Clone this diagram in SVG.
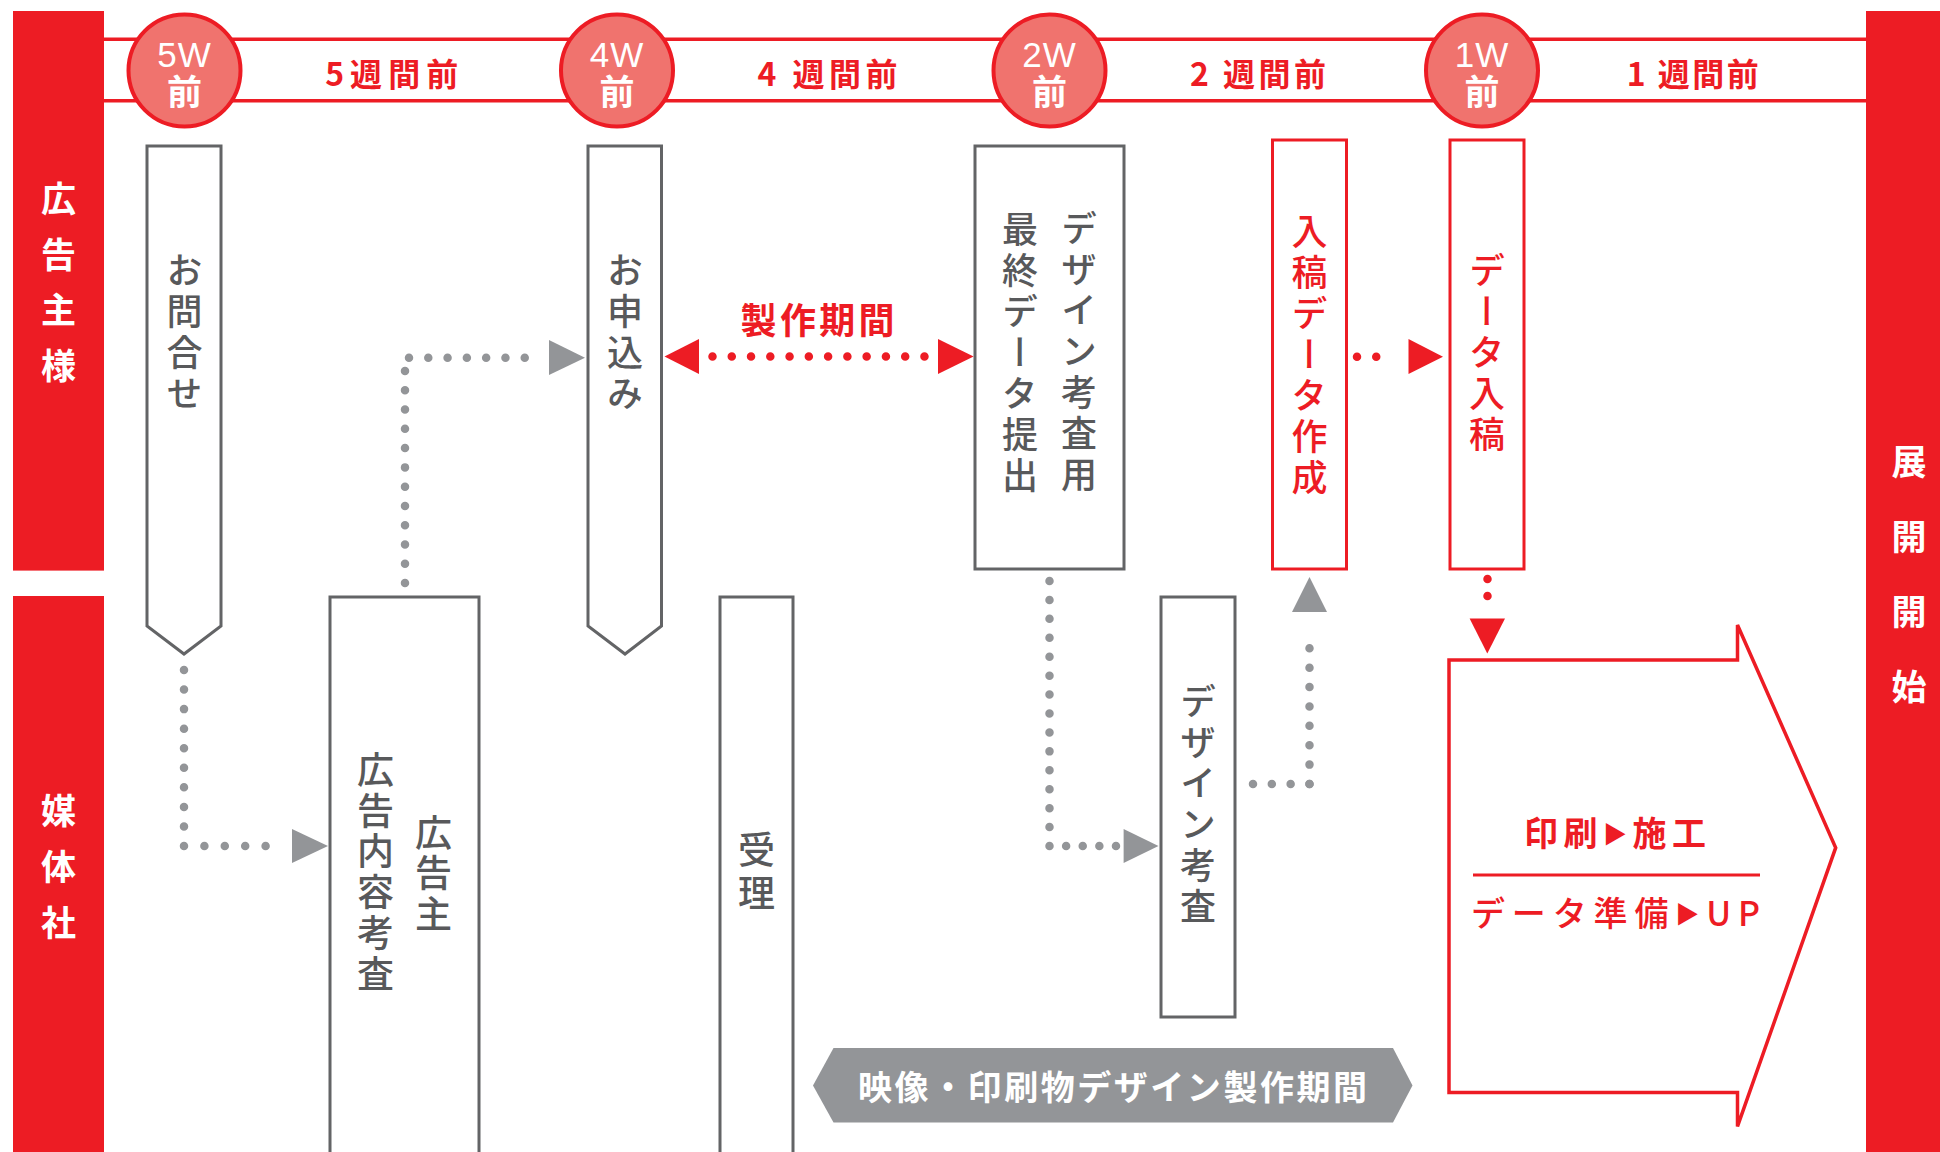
<svg xmlns="http://www.w3.org/2000/svg" width="1940" height="1152" viewBox="0 0 1940 1152">
<defs>
<style>
text{font-family:"Noto Sans CJK JP","Noto Sans",sans-serif;}
.lane{fill:#ed1c24;}
.lanet{fill:#fff;font-size:35px;font-weight:700;text-anchor:middle;}
.wk{fill:#ed1c24;font-size:32px;font-weight:700;text-anchor:middle;}
.circ{fill:#f0736e;stroke:#ed1c24;stroke-width:4;}
.cw{fill:#fff;text-anchor:middle;font-family:"Liberation Sans","Noto Sans",sans-serif;font-size:35px;font-weight:400;letter-spacing:1px;}
.cz{fill:#fff;writing-mode:vertical-rl;font-size:35px;font-weight:700;}
.gbox{fill:#fff;stroke:#636466;stroke-width:3;}
.rbox{fill:#fff;stroke:#ed1c24;stroke-width:3;}
.v{writing-mode:vertical-rl;font-size:36px;letter-spacing:5px;font-weight:500;}
.gt{fill:#58595b;}
.rt{fill:#ed1c24;}
.gdot{fill:none;stroke:#939598;stroke-width:8.5;stroke-linecap:round;}
.rdot{fill:none;stroke:#ed1c24;stroke-width:8.5;stroke-linecap:round;}
.gah{fill:#939598;}
.rah{fill:#ed1c24;}
.tri{font-size:24px;}
</style>
</defs>
<rect width="1940" height="1152" fill="#fff"/>

<g id="lane-advertiser">
<rect class="lane" x="13" y="11" width="91" height="559.6"/>
<text class="lanet" x="58.5" y="212">広</text>
<text class="lanet" x="58.5" y="267.5">告</text>
<text class="lanet" x="58.5" y="323">主</text>
<text class="lanet" x="58.5" y="379">様</text>
</g>
<g id="lane-media">
<rect class="lane" x="13" y="596" width="91" height="556"/>
<text class="lanet" x="58.5" y="824">媒</text>
<text class="lanet" x="58.5" y="880">体</text>
<text class="lanet" x="58.5" y="936">社</text>
</g>
<g id="lane-start">
<rect class="lane" x="1866" y="11" width="74" height="1141"/>
<text class="lanet" x="1909" y="475">展</text>
<text class="lanet" x="1909" y="550">開</text>
<text class="lanet" x="1909" y="625">開</text>
<text class="lanet" x="1909" y="700">始</text>
</g>

<g id="timeline">
<line x1="104" y1="39.3" x2="1866" y2="39.3" stroke="#ed1c24" stroke-width="3.5"/>
<line x1="104" y1="100.7" x2="1866" y2="100.7" stroke="#ed1c24" stroke-width="3.5"/>
<text class="wk" x="391.7" y="86" textLength="133" lengthAdjust="spacing">5週間前</text>
<text class="wk" x="827.4" y="86" textLength="140" lengthAdjust="spacing">4 週間前</text>
<text class="wk" x="1258" y="86" textLength="136" lengthAdjust="spacing">2 週間前</text>
<text class="wk" x="1692.7" y="86" textLength="132" lengthAdjust="spacing">1 週間前</text>
</g>

<g id="m5w">
<circle class="circ" cx="184.5" cy="70.5" r="56"/>
<text class="cw" x="184.5" y="66.5">5W</text>
<text class="cz" x="184.5" y="74.5">前</text>
</g>
<g id="m4w">
<circle class="circ" cx="617" cy="70.5" r="56"/>
<text class="cw" x="617" y="66.5">4W</text>
<text class="cz" x="617" y="74.5">前</text>
</g>
<g id="m2w">
<circle class="circ" cx="1049.5" cy="70.5" r="56"/>
<text class="cw" x="1049.5" y="66.5">2W</text>
<text class="cz" x="1049.5" y="74.5">前</text>
</g>
<g id="m1w">
<circle class="circ" cx="1482" cy="70.5" r="56"/>
<text class="cw" x="1482" y="66.5">1W</text>
<text class="cz" x="1482" y="74.5">前</text>
</g>

<g id="n-inquiry">
<path class="gbox" d="M147,146 H221 V626 L184,654 L147,626 Z"/>
<text class="v gt" x="184.5" y="252">お問合せ</text>
</g>
<g id="n-apply">
<path class="gbox" d="M588,146 H661.5 V626 L625,654 L588,626 Z"/>
<text class="v gt" x="625" y="252">お申込み</text>
</g>
<g id="n-review">
<rect class="gbox" x="330" y="597" width="149" height="600"/>
<text class="v gt" x="433.5" y="814" style="font-size:37px;letter-spacing:3.7px">広告主</text>
<text class="v gt" x="375.5" y="751.5" style="font-size:37px;letter-spacing:3.7px">広告内容考査</text>
</g>
<g id="n-accept">
<rect class="gbox" x="720" y="597" width="73" height="600"/>
<text class="v gt" x="756.5" y="831" style="font-size:37px;letter-spacing:6px">受理</text>
</g>
<g id="n-final">
<rect class="gbox" x="975" y="146" width="149" height="423"/>
<text class="v gt" x="1079" y="210">デザイン考査用</text>
<text class="v gt" x="1020" y="211">最終データ提出</text>
</g>
<g id="n-design-review">
<rect class="gbox" x="1161" y="597" width="74" height="420"/>
<text class="v gt" x="1198" y="683">デザイン考査</text>
</g>
<g id="n-make-data">
<rect class="rbox" x="1272.5" y="140" width="74" height="429"/>
<text class="v rt" x="1309.5" y="213">入稿データ作成</text>
</g>
<g id="n-submit">
<rect class="rbox" x="1450" y="140" width="74" height="429"/>
<text class="v rt" x="1487" y="252">データ入稿</text>
</g>

<g id="n-production">
<path d="M1449,660 H1737.5 V625 L1835.7,847.7 L1737.5,1126.4 V1092.4 H1449 Z" fill="#fff" stroke="#ed1c24" stroke-width="3.5" stroke-linejoin="miter"/>
<text x="1615" y="846" fill="#ed1c24" font-size="34" font-weight="700" text-anchor="middle" textLength="182" lengthAdjust="spacing">印刷<tspan class="tri" dy="-3">▶</tspan><tspan dy="3">施工</tspan></text>
<line x1="1473" y1="875" x2="1760" y2="875" stroke="#ed1c24" stroke-width="3"/>
<text x="1615.5" y="926" fill="#ed1c24" font-size="34" font-weight="500" text-anchor="middle" textLength="289" lengthAdjust="spacing">データ準備<tspan class="tri" dy="-3">▶</tspan><tspan dy="3">UP</tspan></text>
</g>

<g id="n-period">
<polygon points="813,1085.5 833.5,1048 1393,1048 1412.5,1085.5 1393,1122.6 833.5,1122.6" fill="#939598"/>
<text x="1112.5" y="1100" fill="#fff" font-size="34" font-weight="700" text-anchor="middle" textLength="509" lengthAdjust="spacing">映像・印刷物デザイン製作期間</text>
</g>

<g id="connectors">
<line class="gdot" x1="184" y1="670" x2="184" y2="846" stroke-dasharray="0 19.56"/>
<line class="gdot" x1="184" y1="846" x2="286" y2="846" stroke-dasharray="0 20.4"/>
<polygon class="gah" points="292,829 328,846 292,863"/>
<line class="gdot" x1="405" y1="583" x2="405" y2="371" stroke-dasharray="0 19.27"/>
<line class="gdot" x1="409" y1="357.7" x2="544" y2="357.7" stroke-dasharray="0 19.29"/>
<polygon class="gah" points="549,340 585,357.7 549,375"/>
<line class="rdot" x1="712.5" y1="356.5" x2="924.5" y2="356.5" stroke-dasharray="0 19.27"/>
<polygon class="rah" points="699,339 664.5,356.5 699,374"/>
<polygon class="rah" points="938,339 973.6,356.5 938,374"/>
<text x="817.6" y="334" fill="#ed1c24" font-size="36" font-weight="700" text-anchor="middle" textLength="154" lengthAdjust="spacing">製作期間</text>
<line class="gdot" x1="1049.5" y1="581" x2="1049.5" y2="846" stroke-dasharray="0 18.93"/>
<line class="gdot" x1="1049.5" y1="846" x2="1116" y2="846" stroke-dasharray="0 16.62"/>
<polygon class="gah" points="1123.6,829 1158.5,846 1123.6,863"/>
<line class="gdot" x1="1253" y1="784" x2="1309.5" y2="784" stroke-dasharray="0 18.83"/>
<line class="gdot" x1="1309.5" y1="784" x2="1309.5" y2="629" stroke-dasharray="0 19.38"/>
<polygon class="gah" points="1292,612 1309.5,577 1327,612"/>
<line class="rdot" x1="1357" y1="356.7" x2="1395.5" y2="356.7" stroke-dasharray="0 19.25"/>
<polygon class="rah" points="1408.5,339 1443,356.7 1408.5,374"/>
<line class="rdot" x1="1487.5" y1="579" x2="1487.5" y2="613" stroke-dasharray="0 17"/>
<polygon class="rah" points="1469.6,618.5 1505,618.5 1487.3,653.6"/>
</g>
</svg>
